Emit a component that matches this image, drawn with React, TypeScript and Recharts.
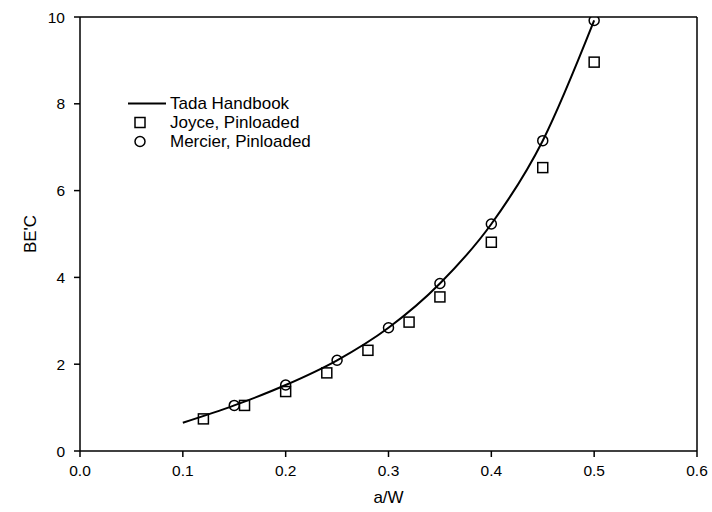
import React from "react";
import {
  ComposedChart,
  Line,
  Scatter,
  XAxis,
  YAxis,
  Legend,
  ReferenceLine,
} from "recharts";

// Tada Handbook curve (a/W, BE'C)
const tadaX = [0.1, 0.15, 0.2, 0.25, 0.3, 0.35, 0.4, 0.45, 0.5];
const tadaY = [0.65, 1.05, 1.52, 2.09, 2.84, 3.86, 5.23, 7.15, 9.92];

// Joyce, Pinloaded
const joyceX = [0.12, 0.16, 0.2, 0.24, 0.28, 0.32, 0.35, 0.4, 0.45, 0.5];
const joyceY = [0.74, 1.05, 1.37, 1.8, 2.32, 2.97, 3.55, 4.81, 6.53, 8.96];

// Mercier, Pinloaded
const mercierX = [0.15, 0.2, 0.25, 0.3, 0.35, 0.4, 0.45, 0.5];
const mercierY = [1.05, 1.52, 2.09, 2.84, 3.86, 5.23, 7.15, 9.92];

const xTicks = [0, 0.1, 0.2, 0.3, 0.4, 0.5, 0.6];
const yTicks = [0, 2, 4, 6, 8, 10];

const seriesNames = ["Tada Handbook", "Joyce, Pinloaded", "Mercier, Pinloaded"];

const tadaData = tadaX.map((x, i) => ({ x, y: tadaY[i] }));
const joyceData = joyceX.map((x, i) => ({ x, y: joyceY[i] }));
const mercierData = mercierX.map((x, i) => ({ x, y: mercierY[i] }));

const FONT = "'Liberation Sans', Arial, Helvetica, sans-serif";

const SquareShape = (props: any) => {
  const { cx, cy } = props;
  if (cx == null || cy == null) return null;
  return (
    <rect x={cx - 5} y={cy - 5} width={10} height={10} fill="none" stroke="#000" strokeWidth={1.5} />
  );
};

const CircleShape = (props: any) => {
  const { cx, cy } = props;
  if (cx == null || cy == null) return null;
  return <circle cx={cx} cy={cy} r={5} fill="none" stroke="#000" strokeWidth={1.5} />;
};

const LegendContent = () => {
  const row = (kind: number, label: string) => (
    <div key={label} style={{ display: "flex", alignItems: "center", height: 19 }}>
      <svg width={46} height={19} style={{ display: "block" }}>
        {kind === 0 && <line x1={8} y1={9.5} x2={46} y2={9.5} stroke="#000" strokeWidth={2} />}
        {kind === 1 && (
          <rect x={15} y={4.5} width={10} height={10} fill="none" stroke="#000" strokeWidth={1.5} />
        )}
        {kind === 2 && <circle cx={20} cy={9.5} r={5} fill="none" stroke="#000" strokeWidth={1.5} />}
      </svg>
      <span style={{ marginLeft: 4, fontSize: 17, fontFamily: FONT, color: "#000", lineHeight: "19px" }}>
        {label}
      </span>
    </div>
  );
  return <div>{seriesNames.map((n, i) => row(i, n))}</div>;
};

const YLabel = (props: any) => {
  const vb = props.viewBox || {};
  const cx = 30;
  const cy = (vb.y ?? 17) + (vb.height ?? 434) / 2;
  return (
    <text
      x={cx}
      y={cy}
      transform={`rotate(-90, ${cx}, ${cy})`}
      textAnchor="middle"
      dominantBaseline="central"
      fontSize={17}
      fontFamily={FONT}
      fill="#000"
    >
      BE'C
    </text>
  );
};

const XLabel = (props: any) => {
  const vb = props.viewBox || {};
  const cx = (vb.x ?? 80) + (vb.width ?? 617) / 2;
  return (
    <text
      x={cx}
      y={497}
      textAnchor="middle"
      dominantBaseline="central"
      fontSize={17}
      fontFamily={FONT}
      fill="#000"
    >
      a/W
    </text>
  );
};

export default function App() {
  return (
    <div style={{ position: "absolute", left: 0, top: 0, width: 712, height: 512, background: "#fff" }}>
      <ComposedChart
        width={712}
        height={512}
        margin={{ top: 17, right: 15, left: 20, bottom: 11 }}
        style={{ fontFamily: FONT }}
      >
        <XAxis
          type="number"
          dataKey="x"
          domain={[0, 0.6]}
          ticks={xTicks}
          tickFormatter={(v: number) => v.toFixed(1)}
          height={50}
          tickSize={6}
          tickMargin={8}
          stroke="#000"
          strokeWidth={1.5}
          tick={{ fill: "#000", fontSize: 15.5, fontFamily: FONT }}
          allowDataOverflow
          label={<XLabel />}
        />
        <YAxis
          type="number"
          dataKey="y"
          domain={[0, 10]}
          ticks={yTicks}
          width={60}
          tickSize={6}
          tickMargin={9}
          stroke="#000"
          strokeWidth={1.5}
          tick={{ fill: "#000", fontSize: 15.5, fontFamily: FONT }}
          allowDataOverflow
          label={<YLabel />}
        />
        <ReferenceLine y={10} stroke="#000" strokeWidth={1.5} />
        <ReferenceLine x={0.6} stroke="#000" strokeWidth={1.5} />
        <Line
          data={tadaData}
          dataKey="y"
          type="monotone"
          stroke="#000"
          strokeWidth={2}
          dot={false}
          activeDot={false}
          isAnimationActive={false}
          name={seriesNames[0]}
        />
        <Scatter
          data={joyceData}
          dataKey="y"
          shape={<SquareShape />}
          isAnimationActive={false}
          name={seriesNames[1]}
        />
        <Scatter
          data={mercierData}
          dataKey="y"
          shape={<CircleShape />}
          isAnimationActive={false}
          name={seriesNames[2]}
        />
        <Legend
          layout="vertical"
          align="center"
          verticalAlign="middle"
          content={<LegendContent />}
          wrapperStyle={{ position: "absolute", left: 120, top: 94, width: 260 }}
        />
      </ComposedChart>
    </div>
  );
}
